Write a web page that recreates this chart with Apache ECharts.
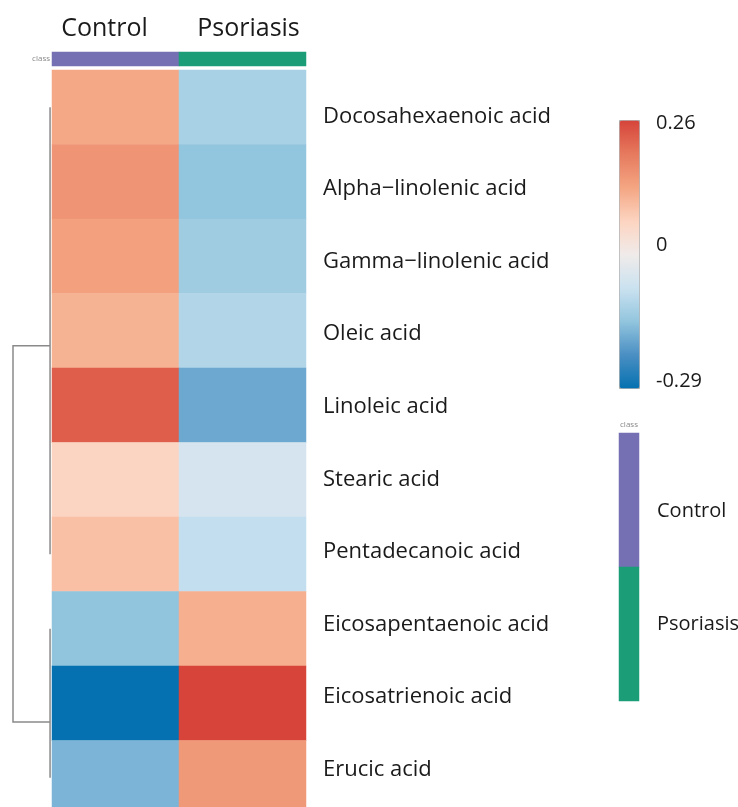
<!DOCTYPE html>
<html>
<head>
<meta charset="utf-8">
<script src="https://cdn.jsdelivr.net/npm/echarts@6/dist/echarts.min.js"></script>
<style>
  html, body { margin: 0; background: #fff; }
  #chart { width: 738px; height: 807px; }
</style>
</head>
<body>
<div id="chart"></div>
<script>
// rows of the heatmap (top to bottom)
const acids = [
  'Docosahexaenoic acid', 'Alpha−linolenic acid', 'Gamma−linolenic acid', 'Oleic acid',
  'Linoleic acid', 'Stearic acid', 'Pentadecanoic acid', 'Eicosapentaenoic acid',
  'Eicosatrienoic acid', 'Erucic acid'
];
const groups = ['Control', 'Psoriasis'];
const controlValues = [0.118, 0.149, 0.130, 0.102, 0.227, 0.050, 0.083, -0.153, -0.290, -0.174];
const psoriasisValues = [-0.125, -0.152, -0.136, -0.114, -0.189, -0.065, -0.093, 0.108, 0.260, 0.141];
const colorTicks = [0.26, 0, -0.29];
const classColors = ['#7570b3', '#1b9e77'];
// dendrogram branches: [height, row position]
const dendroBranches = [
  [[0.05, 0], [0.05, 6]],
  [[0.05, 7], [0.05, 9]],
  [[0.05, 3.2], [1, 3.2], [1, 8.25], [0.05, 8.25]]
];

const vMin = -0.29, vMax = 0.26;
const ramp = ['#0571b0', '#4a8fc3', '#92c5de', '#cbe2f0', '#f0ebea', '#fcd4c0', '#f4a582', '#e67a5e', '#d6443a'];
const font = 'Open Sans';
const txt = '#1a1a1a';

const heatData = [];
acids.forEach((a, i) => {
  heatData.push([0, i, controlValues[i]]);
  heatData.push([1, i, psoriasisValues[i]]);
});
const classTop = groups.map((g, i) => [i, 0, i]);
const classSide = groups.map((g, i) => [0, i, i]);

// colour legend geometry
const barTop = 120, barH = 268;
const tickY = v => 124 + (vMax - v) / (vMax - vMin) * 258;

const chart = echarts.init(document.getElementById('chart'));
chart.setOption({
  backgroundColor: '#fff',
  animation: false,
  textStyle: { fontFamily: font },
  grid: [
    { left: 52, top: 70, width: 254, height: 745, outerBoundsMode: 'none' },   // heatmap
    { left: 52, top: 52, width: 254, height: 14, outerBoundsMode: 'none' },    // class bar
    { left: 13, top: 70, width: 39, height: 745, outerBoundsMode: 'none' },    // dendrogram
    { left: 619, top: 433, width: 20, height: 268, outerBoundsMode: 'none' },  // class legend
    { left: 52, top: 80, width: 254, height: 726, outerBoundsMode: 'none' }    // row labels
  ],
  xAxis: [
    { gridIndex: 0, type: 'category', data: groups, show: false },
    {
      gridIndex: 1, type: 'category', data: groups, position: 'top',
      axisLine: { show: false }, axisTick: { show: false },
      axisLabel: {
        interval: 0, margin: 11, fontSize: 25, color: txt, fontFamily: font,
        formatter: v => v === 'Control' ? '{c|' + v + '}' : '{p|' + v + '}',
        rich: {
          c: { fontSize: 25, color: txt, fontFamily: font, padding: [0, 22, 0, 0] },
          p: { fontSize: 25, color: txt, fontFamily: font, padding: [0, 0, 0, 12] }
        }
      }
    },
    { gridIndex: 2, type: 'value', min: 0, max: 1, inverse: true, show: false },
    {
      gridIndex: 3, type: 'category', data: ['class'], position: 'top',
      axisLine: { show: false }, axisTick: { show: false },
      axisLabel: { margin: 4, fontSize: 8, color: '#888' }
    },
    { gridIndex: 4, type: 'value', show: false }
  ],
  yAxis: [
    { gridIndex: 0, type: 'category', data: acids, inverse: true, show: false },
    {
      gridIndex: 1, type: 'category', data: ['class'], position: 'left',
      axisLine: { show: false }, axisTick: { show: false },
      axisLabel: { margin: 2, fontSize: 8, color: '#888' }
    },
    { gridIndex: 2, type: 'value', min: -0.5, max: 9.5, inverse: true, show: false },
    {
      gridIndex: 3, type: 'category', data: groups, inverse: true, position: 'right',
      axisLine: { show: false }, axisTick: { show: false },
      axisLabel: {
        interval: 0, margin: 18, fontSize: 20, color: txt,
        formatter: v => v === 'Control' ? '{c|' + v + '}' : '{p|' + v + '}',
        rich: {
          c: { fontSize: 20, color: txt, fontFamily: font, padding: [22, 0, 0, 0] },
          p: { fontSize: 20, color: txt, fontFamily: font, padding: [0, 0, 20, 0] }
        }
      }
    },
    {
      gridIndex: 4, type: 'category', data: acids, inverse: true, position: 'right',
      axisLine: { show: false }, axisTick: { show: false }, splitLine: { show: false },
      axisLabel: { interval: 0, margin: 17, fontSize: 22, color: txt, align: 'left' }
    }
  ],
  visualMap: [
    {
      type: 'continuous', seriesIndex: 0, dimension: 2, min: vMin, max: vMax,
      left: 619, top: barTop, itemWidth: 20, itemHeight: barH,
      calculable: false, padding: 0, borderColor: '#aaa', borderWidth: 1,
      inRange: { color: ramp }
    },
    {
      type: 'piecewise', show: false, seriesIndex: [1, 3], dimension: 2,
      pieces: [{ value: 0, color: classColors[0] }, { value: 1, color: classColors[1] }]
    }
  ],
  graphic: colorTicks.map(v => ({
    type: 'text', left: 656, top: tickY(v) - 11,
    style: { text: String(v), fontSize: 20, fontFamily: font, fill: txt }
  })),
  series: [
    { type: 'heatmap', xAxisIndex: 0, yAxisIndex: 0, data: heatData, silent: true },
    { type: 'heatmap', xAxisIndex: 1, yAxisIndex: 1, data: classTop, silent: true },
    {
      type: 'lines', coordinateSystem: 'cartesian2d', xAxisIndex: 2, yAxisIndex: 2,
      polyline: true, silent: true,
      lineStyle: { color: '#8a8a8a', width: 1.5, opacity: 1 },
      data: dendroBranches.map(c => ({ coords: c }))
    },
    { type: 'heatmap', xAxisIndex: 3, yAxisIndex: 3, data: classSide, silent: true }
  ]
});
</script>
</body>
</html>
